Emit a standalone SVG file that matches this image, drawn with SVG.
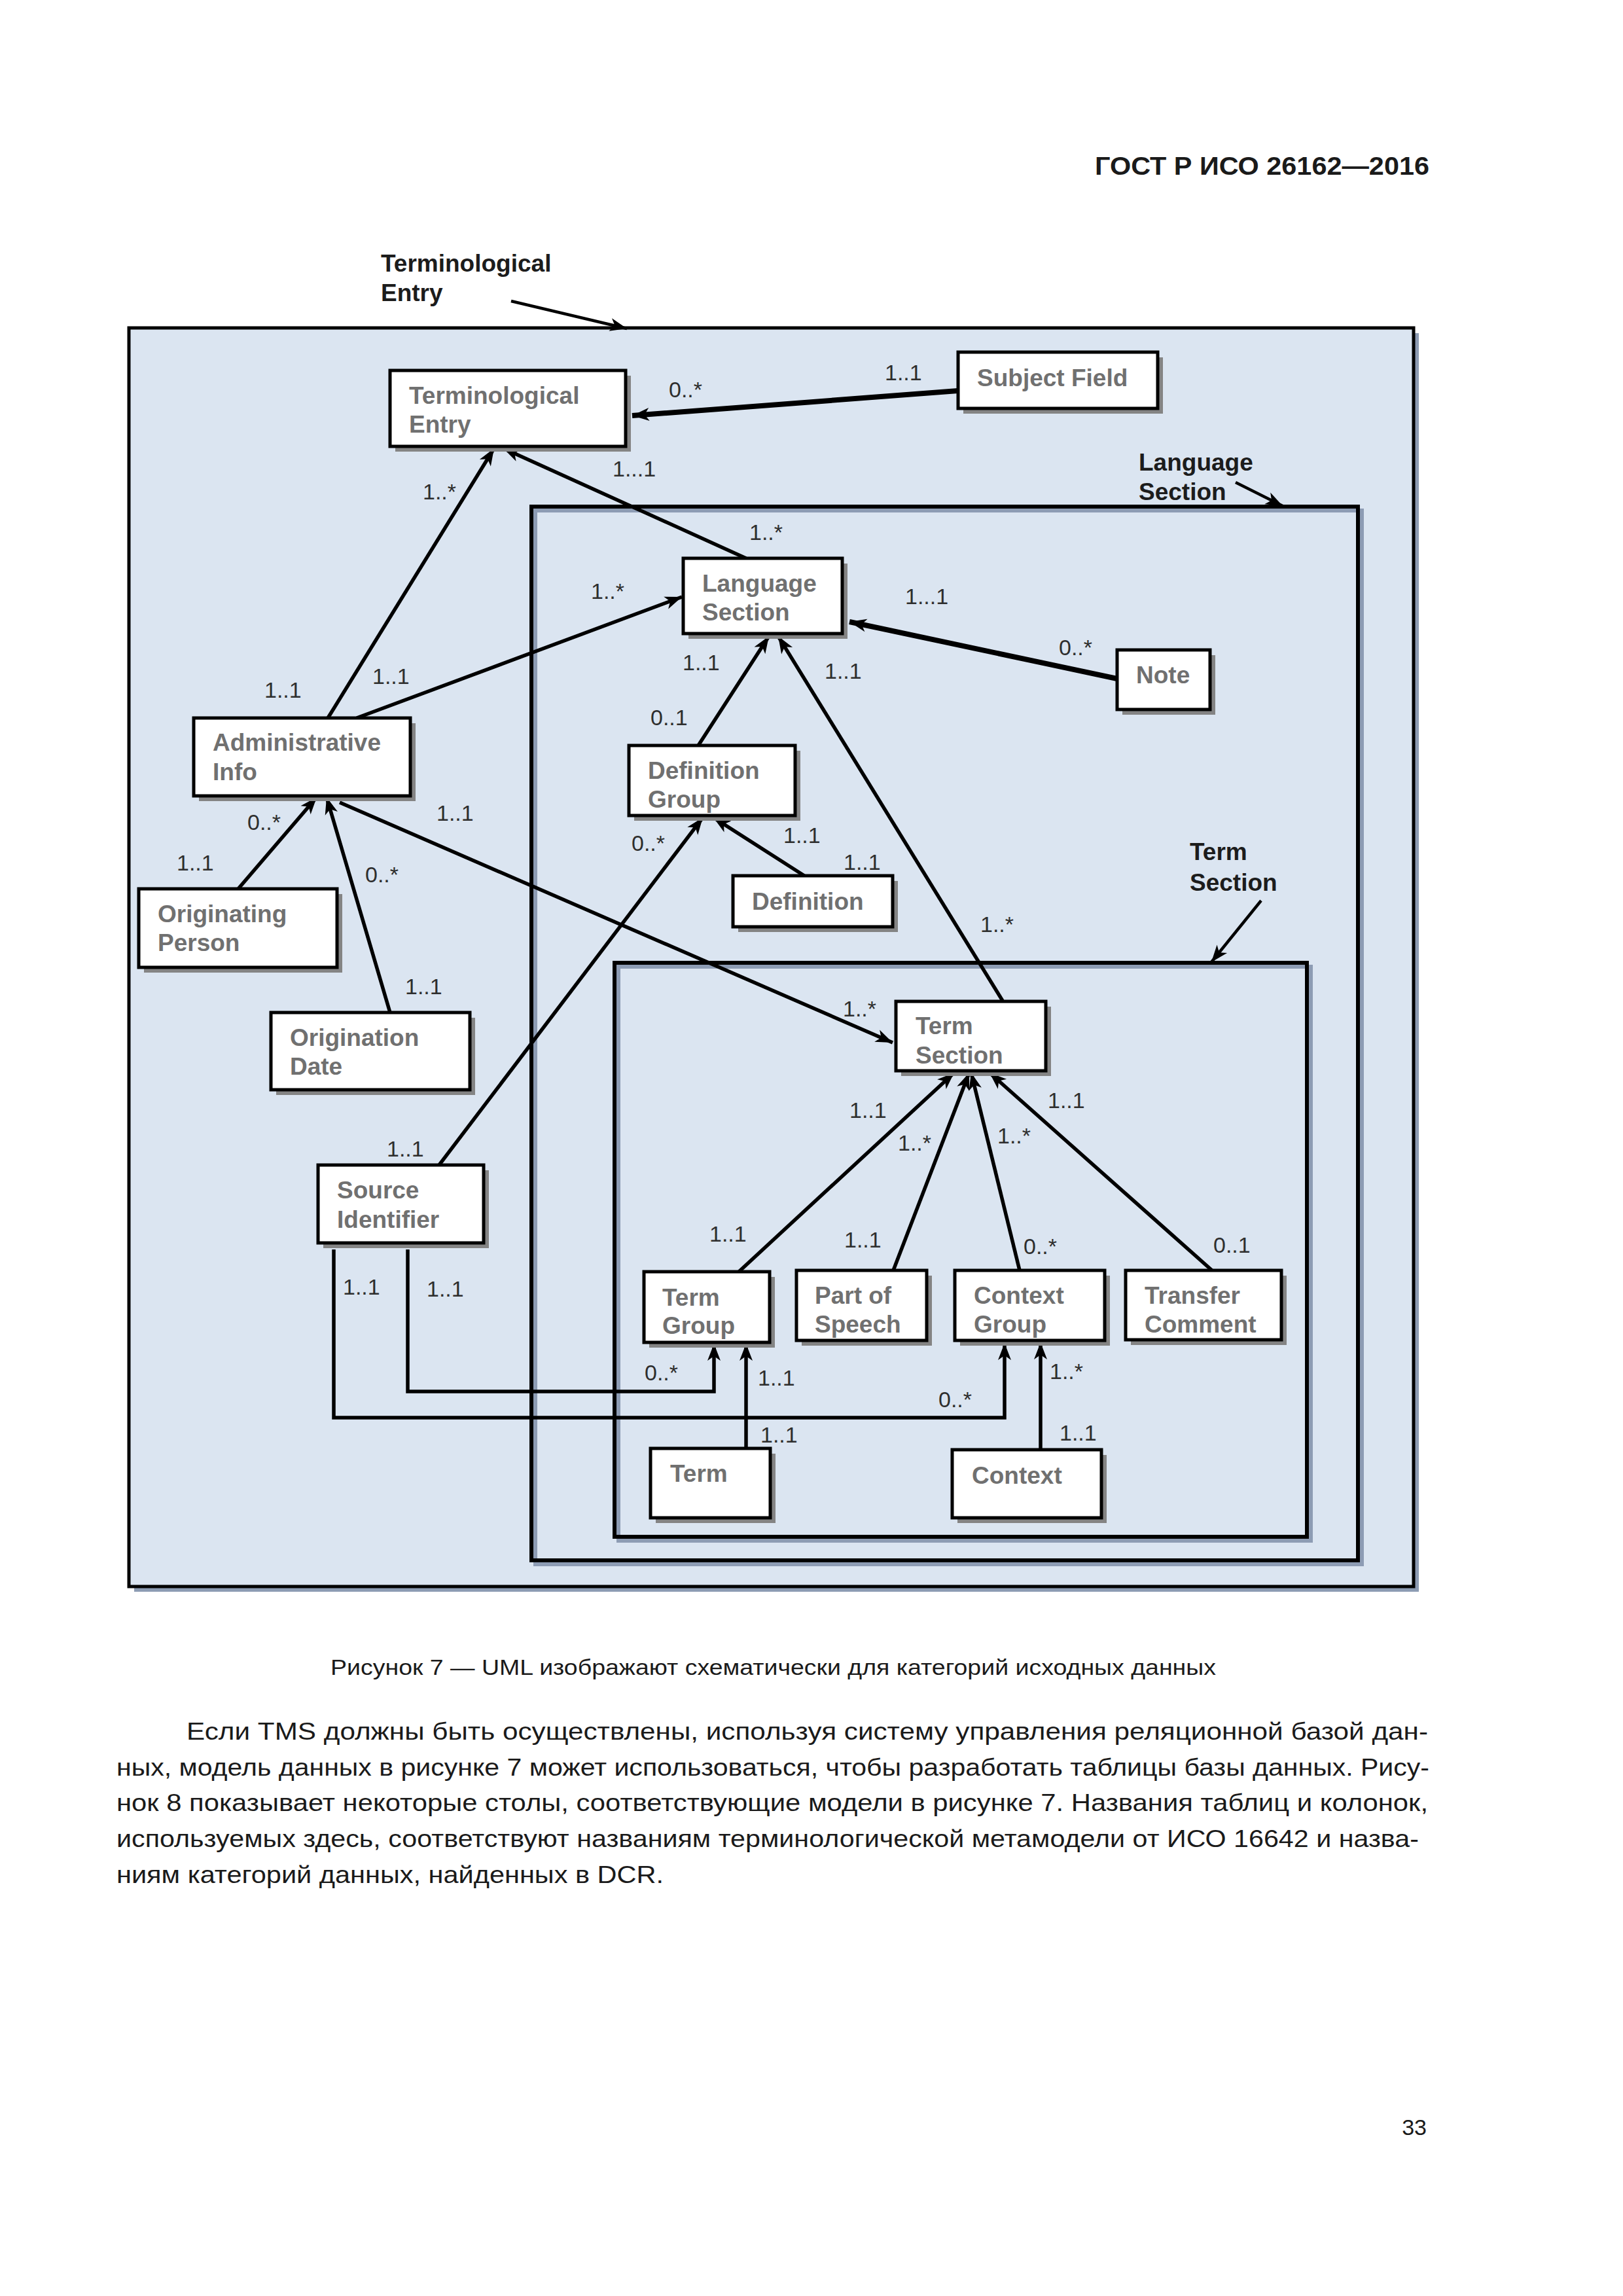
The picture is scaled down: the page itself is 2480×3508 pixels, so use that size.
<svg xmlns="http://www.w3.org/2000/svg" width="2480" height="3508" viewBox="0 0 2480 3508">
<style>
.frame{fill:none;stroke:#000;stroke-width:6}
.fshadow{fill:none;stroke:#8d9cb4;stroke-width:6}
.box{fill:#fff;stroke:#000;stroke-width:5}
.shadow{fill:#848484}
.nt{font-family:"Liberation Sans",Arial,sans-serif;font-size:37px;font-weight:bold;fill:#707070}
.m{font-family:"Liberation Sans",Arial,sans-serif;font-size:34px;fill:#2e2e2e}
.fl{font-family:"Liberation Sans",Arial,sans-serif;font-size:37px;font-weight:bold;fill:#1c1c1c}
.c{fill:none;stroke:#000;stroke-width:5.5;marker-end:url(#arr)}
.ct{stroke-width:8}
.la{fill:none;stroke:#000;stroke-width:4.5;marker-end:url(#arr)}
.pt{font-family:"Liberation Sans",Arial,sans-serif;font-size:37px;fill:#1a1a1a}
</style>
<defs>
<marker id="arr" markerWidth="30" markerHeight="24" refX="27" refY="12" orient="auto" markerUnits="userSpaceOnUse">
<path d="M1,2 L27,12 L1,22 L8,12 Z" fill="#000"/>
</marker>
</defs>
<rect x="0" y="0" width="2480" height="3508" fill="#fff"/>

<text x="2184" y="267" text-anchor="end" font-family="Liberation Sans, Arial, sans-serif" font-size="39" font-weight="bold" fill="#1a1a1a" textLength="511" lengthAdjust="spacingAndGlyphs">ГОСТ Р ИСО 26162—2016</text>

<g id="frames">
<rect x="205" y="509" width="1963" height="1923" fill="#8d9cb4"/>
<rect x="197" y="501" width="1963" height="1923" fill="#dbe5f1" stroke="#000" stroke-width="5"/>
<rect class="fshadow" x="818" y="780" width="1263" height="1610"/>
<rect class="frame" x="812" y="774" width="1263" height="1610"/>
<rect class="fshadow" x="945" y="1477" width="1058" height="877"/>
<rect class="frame" x="939" y="1471" width="1058" height="877"/>
<text class="fl" x="582" y="415">Terminological</text>
<text class="fl" x="582" y="460">Entry</text>
<text class="fl" x="1740" y="719">Language</text>
<text class="fl" x="1740" y="764">Section</text>
<text class="fl" x="1818" y="1314">Term</text>
<text class="fl" x="1818" y="1361">Section</text>
<path class="la" d="M781,460 L958,502"/>
<path class="la" d="M1888,737 L1960,773"/>
<path class="la" d="M1927,1376 L1851,1470"/>
</g>

<g id="connectors">
<path class="c ct" d="M1464,597 L966,635"/>
<path class="c" d="M501,1097 L755,685"/>
<path class="c" d="M1140,853 L769,685"/>
<path class="c" d="M545,1097 L1042,912"/>
<path class="c ct" d="M1707,1037 L1298,950"/>
<path class="c" d="M1067,1139 L1175,972"/>
<path class="c" d="M1532,1529 L1189,972"/>
<path class="c" d="M1229,1338 L1090,1249"/>
<path class="c" d="M671,1780 L1074,1249"/>
<path class="c" d="M519,1226 L1364,1593"/>
<path class="c" d="M364,1358 L484,1218"/>
<path class="c" d="M596,1547 L499,1218"/>
<path class="c" d="M1129,1943 L1458,1639"/>
<path class="c" d="M1365,1941 L1481,1639"/>
<path class="c" d="M1558,1941 L1484,1639"/>
<path class="c" d="M1852,1941 L1512,1639"/>
<path class="c" d="M1140,2213 L1140,2053"/>
<path class="c" d="M1590,2215 L1590,2051"/>
<path class="c" d="M623,1909 L623,2126 L1091,2126 L1091,2053"/>
<path class="c" d="M510,1909 L510,2166 L1535,2166 L1535,2052"/>
</g>

<g id="multiplicities">
<text class="m" x="1022" y="607">0..*</text>
<text class="m" x="1352" y="581">1..1</text>
<text class="m" x="936" y="728">1...1</text>
<text class="m" x="646" y="763">1..*</text>
<text class="m" x="1145" y="825">1..*</text>
<text class="m" x="1383" y="923">1...1</text>
<text class="m" x="903" y="915">1..*</text>
<text class="m" x="1618" y="1001">0..*</text>
<text class="m" x="1043" y="1024">1..1</text>
<text class="m" x="1260" y="1037">1..1</text>
<text class="m" x="994" y="1108">0..1</text>
<text class="m" x="965" y="1300">0..*</text>
<text class="m" x="1197" y="1288">1..1</text>
<text class="m" x="1289" y="1329">1..1</text>
<text class="m" x="1498" y="1424">1..*</text>
<text class="m" x="1288" y="1553">1..*</text>
<text class="m" x="404" y="1066">1..1</text>
<text class="m" x="569" y="1045">1..1</text>
<text class="m" x="378" y="1268">0..*</text>
<text class="m" x="667" y="1254">1..1</text>
<text class="m" x="270" y="1330">1..1</text>
<text class="m" x="558" y="1348">0..*</text>
<text class="m" x="619" y="1519">1..1</text>
<text class="m" x="591" y="1767">1..1</text>
<text class="m" x="524" y="1978">1..1</text>
<text class="m" x="652" y="1981">1..1</text>
<text class="m" x="985" y="2109">0..*</text>
<text class="m" x="1158" y="2117">1..1</text>
<text class="m" x="1162" y="2204">1..1</text>
<text class="m" x="1084" y="1897">1..1</text>
<text class="m" x="1290" y="1906">1..1</text>
<text class="m" x="1298" y="1708">1..1</text>
<text class="m" x="1372" y="1758">1..*</text>
<text class="m" x="1524" y="1747">1..*</text>
<text class="m" x="1601" y="1693">1..1</text>
<text class="m" x="1564" y="1916">0..*</text>
<text class="m" x="1854" y="1914">0..1</text>
<text class="m" x="1604" y="2107">1..*</text>
<text class="m" x="1434" y="2150">0..*</text>
<text class="m" x="1619" y="2201">1..1</text>
</g>

<g id="node-terminological-entry"><rect class="shadow" x="604" y="574" width="360" height="116"/><rect class="box" x="596" y="566" width="360" height="116"/><text class="nt" x="625" y="617">Terminological</text><text class="nt" x="625" y="661">Entry</text></g>
<g id="node-subject-field"><rect class="shadow" x="1472" y="546" width="305" height="86"/><rect class="box" x="1464" y="538" width="305" height="86"/><text class="nt" x="1493" y="590">Subject Field</text></g>
<g id="node-language-section"><rect class="shadow" x="1052" y="861" width="243" height="115"/><rect class="box" x="1044" y="853" width="243" height="115"/><text class="nt" x="1073" y="904">Language</text><text class="nt" x="1073" y="948">Section</text></g>
<g id="node-note"><rect class="shadow" x="1715" y="1001" width="142" height="91"/><rect class="box" x="1707" y="993" width="142" height="91"/><text class="nt" x="1736" y="1044">Note</text></g>
<g id="node-administrative-info"><rect class="shadow" x="304" y="1105" width="331" height="119"/><rect class="box" x="296" y="1097" width="331" height="119"/><text class="nt" x="325" y="1147">Administrative</text><text class="nt" x="325" y="1192">Info</text></g>
<g id="node-definition-group"><rect class="shadow" x="969" y="1147" width="254" height="107"/><rect class="box" x="961" y="1139" width="254" height="107"/><text class="nt" x="990" y="1190">Definition</text><text class="nt" x="990" y="1234">Group</text></g>
<g id="node-definition"><rect class="shadow" x="1128" y="1346" width="244" height="78"/><rect class="box" x="1120" y="1338" width="244" height="78"/><text class="nt" x="1149" y="1390">Definition</text></g>
<g id="node-originating-person"><rect class="shadow" x="220" y="1366" width="303" height="120"/><rect class="box" x="212" y="1358" width="303" height="120"/><text class="nt" x="241" y="1409">Originating</text><text class="nt" x="241" y="1453">Person</text></g>
<g id="node-origination-date"><rect class="shadow" x="422" y="1555" width="304" height="118"/><rect class="box" x="414" y="1547" width="304" height="118"/><text class="nt" x="443" y="1598">Origination</text><text class="nt" x="443" y="1642">Date</text></g>
<g id="node-term-section"><rect class="shadow" x="1377" y="1538" width="229" height="106"/><rect class="box" x="1369" y="1530" width="229" height="106"/><text class="nt" x="1399" y="1580">Term</text><text class="nt" x="1399" y="1625">Section</text></g>
<g id="node-source-identifier"><rect class="shadow" x="494" y="1788" width="253" height="119"/><rect class="box" x="486" y="1780" width="253" height="119"/><text class="nt" x="515" y="1831">Source</text><text class="nt" x="515" y="1876">Identifier</text></g>
<g id="node-term-group"><rect class="shadow" x="992" y="1951" width="192" height="108"/><rect class="box" x="984" y="1943" width="192" height="108"/><text class="nt" x="1012" y="1995">Term</text><text class="nt" x="1012" y="2038">Group</text></g>
<g id="node-part-of-speech"><rect class="shadow" x="1225" y="1949" width="199" height="107"/><rect class="box" x="1217" y="1941" width="199" height="107"/><text class="nt" x="1245" y="1992">Part of</text><text class="nt" x="1245" y="2036">Speech</text></g>
<g id="node-context-group"><rect class="shadow" x="1467" y="1949" width="229" height="107"/><rect class="box" x="1459" y="1941" width="229" height="107"/><text class="nt" x="1488" y="1992">Context</text><text class="nt" x="1488" y="2036">Group</text></g>
<g id="node-transfer-comment"><rect class="shadow" x="1728" y="1949" width="238" height="106"/><rect class="box" x="1720" y="1941" width="238" height="106"/><text class="nt" x="1749" y="1992">Transfer</text><text class="nt" x="1749" y="2036">Comment</text></g>
<g id="node-term"><rect class="shadow" x="1002" y="2221" width="183" height="106"/><rect class="box" x="994" y="2213" width="183" height="106"/><text class="nt" x="1024" y="2264">Term</text></g>
<g id="node-context"><rect class="shadow" x="1463" y="2223" width="228" height="104"/><rect class="box" x="1455" y="2215" width="228" height="104"/><text class="nt" x="1485" y="2267">Context</text></g>

<text x="505" y="2559" font-family="Liberation Sans, Arial, sans-serif" font-size="34" fill="#1a1a1a" textLength="1353" lengthAdjust="spacingAndGlyphs">Рисунок 7 — UML изображают схематически для категорий исходных данных</text>
<g id="paragraph">
<text class="pt" x="285" y="2658" textLength="1897" lengthAdjust="spacingAndGlyphs">Если TMS должны быть осуществлены, используя систему управления реляционной базой дан-</text>
<text class="pt" x="178" y="2713" textLength="2006" lengthAdjust="spacingAndGlyphs">ных, модель данных в рисунке 7 может использоваться, чтобы разработать таблицы базы данных. Рису-</text>
<text class="pt" x="178" y="2767" textLength="2004" lengthAdjust="spacingAndGlyphs">нок 8 показывает некоторые столы, соответствующие модели в рисунке 7. Названия таблиц и колонок,</text>
<text class="pt" x="178" y="2822" textLength="1990" lengthAdjust="spacingAndGlyphs">используемых здесь, соответствуют названиям терминологической метамодели от ИСО 16642 и назва-</text>
<text class="pt" x="178" y="2877" textLength="836" lengthAdjust="spacingAndGlyphs">ниям категорий данных, найденных в DCR.</text>
</g>
<text x="2180" y="3262" text-anchor="end" font-family="Liberation Sans, Arial, sans-serif" font-size="34" fill="#1a1a1a">33</text>
</svg>
